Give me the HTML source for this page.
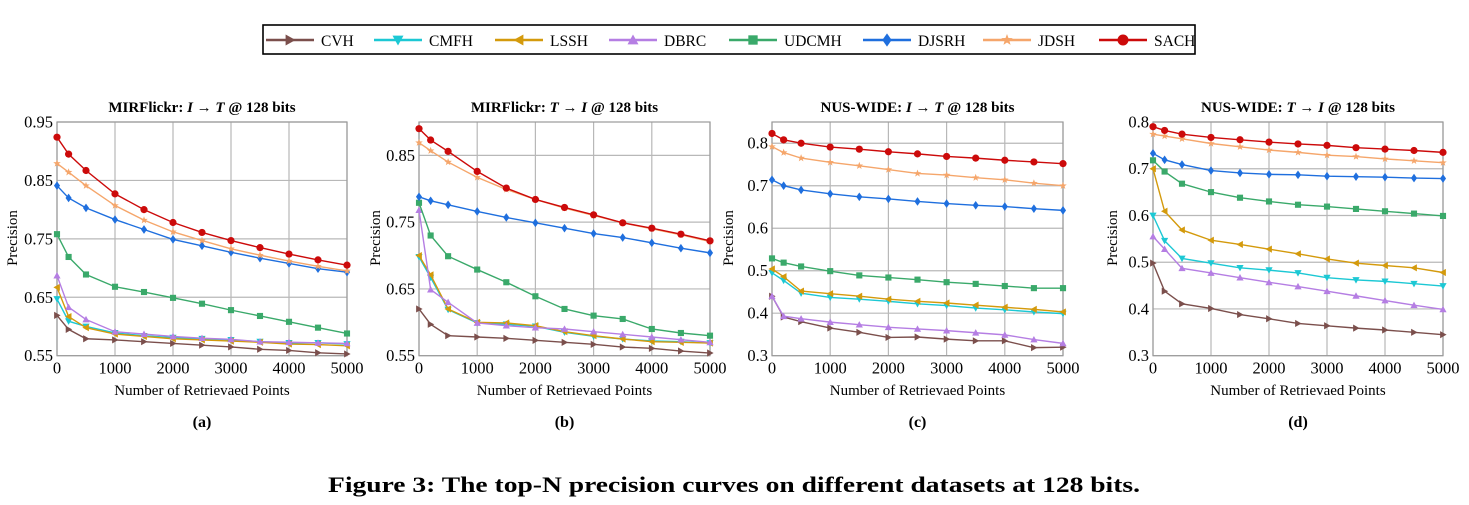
<!DOCTYPE html>
<html><head><meta charset="utf-8"><style>
body{margin:0;background:#fff;}
svg{display:block;font-family:"Liberation Serif",serif;}
</style></head><body>
<svg id="fig" width="1469" height="505" viewBox="0 0 1469 505" xmlns="http://www.w3.org/2000/svg">
<rect x="263" y="25" width="932" height="29" fill="#fff" stroke="#000" stroke-width="1.6"/>
<g id="legend"></g>
<g id="charts"></g>
<text x="734" y="492" text-anchor="middle" font-size="22" font-weight="bold" textLength="812" lengthAdjust="spacingAndGlyphs">Figure 3: The top-N precision curves on different datasets at 128 bits.</text>
</svg>
<script>
const xPoints = [0,200,500,1000,1500,2000,2500,3000,3500,4000,4500,5000];
const xTicks = [0,1000,2000,3000,4000,5000];
const methods = ["CVH","CMFH","LSSH","DBRC","UDCMH","DJSRH","JDSH","SACH"];
const colors = ["#7b4f4c","#1cc8d4","#d49a0c","#b57ee3","#3aa96a","#1f6fde","#f5a66b","#cc0a0a"];
const markers = ["tri-right","tri-down","tri-left","tri-up","square","diamond","star","circle"];

const aCVH=[0.619,0.595,0.579,0.577,0.574,0.571,0.568,0.565,0.561,0.559,0.555,0.553];
const aCMFH=[0.647,0.609,0.600,0.589,0.584,0.581,0.579,0.577,0.574,0.572,0.572,0.570];
const aLSSH=[0.667,0.617,0.598,0.587,0.583,0.579,0.577,0.575,0.573,0.570,0.569,0.567];
const aDBRC=[0.687,0.633,0.612,0.591,0.587,0.583,0.580,0.578,0.574,0.573,0.572,0.571];
const aUDCMH=[0.758,0.719,0.689,0.668,0.659,0.649,0.639,0.628,0.618,0.608,0.598,0.588];
const aDJSRH=[0.841,0.820,0.803,0.783,0.766,0.749,0.738,0.727,0.717,0.708,0.699,0.693];
const aJDSH=[0.879,0.864,0.841,0.807,0.782,0.762,0.747,0.733,0.722,0.712,0.703,0.695];
const aSACH=[0.924,0.895,0.867,0.827,0.800,0.778,0.761,0.747,0.735,0.724,0.714,0.705];

const bCVH=[0.620,0.597,0.580,0.578,0.576,0.573,0.570,0.567,0.563,0.561,0.557,0.554];
const bCMFH=[0.698,0.667,0.619,0.599,0.597,0.594,0.585,0.579,0.575,0.572,0.571,0.569];
const bLSSH=[0.700,0.671,0.620,0.600,0.599,0.595,0.586,0.580,0.575,0.571,0.570,0.569];
const bDBRC=[0.768,0.649,0.630,0.599,0.595,0.592,0.590,0.586,0.582,0.578,0.574,0.570];
const bUDCMH=[0.779,0.730,0.699,0.679,0.660,0.639,0.620,0.610,0.605,0.590,0.584,0.580];
const bDJSRH=[0.788,0.782,0.776,0.766,0.757,0.749,0.741,0.733,0.727,0.719,0.711,0.704];
const bJDSH=[0.869,0.857,0.840,0.817,0.799,0.784,0.771,0.760,0.749,0.740,0.731,0.721];
const bSACH=[0.890,0.873,0.856,0.826,0.801,0.784,0.772,0.761,0.749,0.741,0.732,0.722];

const cCVH=[0.440,0.391,0.380,0.365,0.355,0.343,0.344,0.339,0.335,0.335,0.319,0.320];
const cCMFH=[0.495,0.477,0.447,0.437,0.433,0.428,0.422,0.418,0.412,0.408,0.403,0.399];
const cLSSH=[0.504,0.486,0.452,0.446,0.440,0.433,0.428,0.424,0.419,0.414,0.409,0.403];
const cDBRC=[0.440,0.393,0.387,0.379,0.373,0.367,0.363,0.359,0.354,0.349,0.338,0.329];
const cUDCMH=[0.529,0.519,0.510,0.499,0.489,0.484,0.479,0.473,0.469,0.464,0.459,0.459];
const cDJSRH=[0.714,0.700,0.690,0.681,0.674,0.669,0.663,0.658,0.654,0.651,0.646,0.642];
const cJDSH=[0.792,0.778,0.765,0.755,0.747,0.738,0.729,0.725,0.719,0.714,0.706,0.700];
const cSACH=[0.823,0.808,0.800,0.791,0.786,0.780,0.775,0.769,0.765,0.760,0.756,0.752];

const dCVH=[0.498,0.438,0.411,0.401,0.388,0.379,0.369,0.364,0.359,0.355,0.350,0.345];
const dCMFH=[0.600,0.546,0.508,0.498,0.488,0.483,0.477,0.467,0.462,0.459,0.454,0.449];
const dLSSH=[0.700,0.609,0.569,0.547,0.538,0.528,0.518,0.507,0.498,0.493,0.488,0.478];
const dDBRC=[0.555,0.528,0.487,0.477,0.467,0.457,0.448,0.438,0.428,0.418,0.408,0.399];
const dUDCMH=[0.718,0.694,0.668,0.650,0.638,0.630,0.623,0.619,0.614,0.609,0.604,0.599];
const dDJSRH=[0.733,0.719,0.709,0.696,0.691,0.688,0.687,0.684,0.683,0.682,0.680,0.679];
const dJDSH=[0.774,0.770,0.764,0.754,0.747,0.740,0.735,0.729,0.726,0.721,0.717,0.713];
const dSACH=[0.790,0.782,0.774,0.767,0.762,0.757,0.753,0.750,0.745,0.742,0.739,0.735];

const aYTicks=[0.55,0.65,0.75,0.85,0.95];
const bYTicks=[0.55,0.65,0.75,0.85];
const cYTicks=[0.3,0.4,0.5,0.6,0.7,0.8];
const dYTicks=[0.3,0.4,0.5,0.6,0.7,0.8];
const aYLabels=["0.55","0.65","0.75","0.85","0.95"];
const bYLabels=["0.55","0.65","0.75","0.85"];
const cYLabels=["0.3","0.4","0.5","0.6","0.7","0.8"];
const dYLabels=["0.3","0.4","0.5","0.6","0.7","0.8"];

const NS="http://www.w3.org/2000/svg";
function mk(tag,attrs,parent){const e=document.createElementNS(NS,tag);for(const k in attrs)e.setAttribute(k,attrs[k]);parent.appendChild(e);return e;}

function marker(type,cx,cy,col,parent,s){
  s=s||4;let e;
  if(type==="circle"){e=mk("circle",{cx:cx,cy:cy,r:s,fill:col},parent);}
  else if(type==="square"){e=mk("rect",{x:cx-s*0.85,y:cy-s*0.85,width:s*1.7,height:s*1.7,fill:col},parent);}
  else{
    let pts;
    if(type==="diamond")pts=[[0,-s*1.2],[s*0.85,0],[0,s*1.2],[-s*0.85,0]];
    else if(type==="tri-up")pts=[[0,-s],[s,s*0.8],[-s,s*0.8]];
    else if(type==="tri-down")pts=[[0,s],[s,-s*0.8],[-s,-s*0.8]];
    else if(type==="tri-left")pts=[[-s,0],[s*0.8,-s],[s*0.8,s]];
    else if(type==="tri-right")pts=[[s,0],[-s*0.8,-s],[-s*0.8,s]];
    else if(type==="star"){pts=[];for(let i=0;i<10;i++){const r=i%2?s*0.45:s*1.1;const a=-Math.PI/2+i*Math.PI/5;pts.push([r*Math.cos(a),r*Math.sin(a)]);}}
    e=mk("polygon",{points:pts.map(p=>(cx+p[0])+","+(cy+p[1])).join(" "),fill:col},parent);
  }
  return e;
}

// legend
const legendLineX=[266,374,495,609,729,863,983,1099];
const leg=document.getElementById("legend");
methods.forEach((m,i)=>{
  const g=mk("g",{},leg);
  
  
  const x=legendLineX[i];
  mk("line",{x1:x,y1:40,x2:x+48,y2:40,stroke:colors[i],"stroke-width":2.4},g);
  marker(markers[i],x+24,40,colors[i],g,5.5);
  const t=mk("text",{x:x+55,y:46,"font-size":15.5},g);
  t.textContent=m;
});

const charts=[
 {id:"a",title:["MIRFlickr: ","I"," → ","T"," @ 128 bits"],x0:57,x1:347,ymin:0.55,ymax:0.95,yt:aYTicks,yl:aYLabels,series:[aCVH,aCMFH,aLSSH,aDBRC,aUDCMH,aDJSRH,aJDSH,aSACH],ylx:17},
 {id:"b",title:["MIRFlickr: ","T"," → ","I"," @ 128 bits"],x0:419,x1:710,ymin:0.55,ymax:0.9,yt:bYTicks,yl:bYLabels,series:[bCVH,bCMFH,bLSSH,bDBRC,bUDCMH,bDJSRH,bJDSH,bSACH],ylx:380},
 {id:"c",title:["NUS-WIDE: ","I"," → ","T"," @ 128 bits"],x0:772,x1:1063,ymin:0.3,ymax:0.85,yt:cYTicks,yl:cYLabels,series:[cCVH,cCMFH,cLSSH,cDBRC,cUDCMH,cDJSRH,cJDSH,cSACH],ylx:733},
 {id:"d",title:["NUS-WIDE: ","T"," → ","I"," @ 128 bits"],x0:1153,x1:1443,ymin:0.3,ymax:0.8,yt:dYTicks,yl:dYLabels,series:[dCVH,dCMFH,dLSSH,dDBRC,dUDCMH,dDJSRH,dJDSH,dSACH],ylx:1117}
];
const yTop=122,yBot=355.7;
const root=document.getElementById("charts");
charts.forEach(c=>{
  const g=mk("g",{},root);
  
  
  const X=v=>c.x0+(v-0)/5000*(c.x1-c.x0);
  const Y=v=>yBot-(v-c.ymin)/(c.ymax-c.ymin)*(yBot-yTop);
  const cx=(c.x0+c.x1)/2;
  xTicks.forEach(t=>{const l=mk("line",{x1:X(t),y1:yTop,x2:X(t),y2:yBot,stroke:"#b8b8b8","stroke-width":1.2},g);
    
    const tx=mk("text",{x:X(t),y:yBot+18,"text-anchor":"middle","font-size":16.5},g);tx.textContent=String(t);
    });
  c.yt.forEach((t,i)=>{const l=mk("line",{x1:c.x0,y1:Y(t),x2:c.x1,y2:Y(t),stroke:"#b8b8b8","stroke-width":1.2},g);
    
    const tx=mk("text",{x:c.x0-4,y:Y(t)+5.5,"text-anchor":"end","font-size":16.5},g);tx.textContent=c.yl[i];
    });
  const fr=mk("rect",{x:c.x0,y:yTop,width:c.x1-c.x0,height:yBot-yTop,fill:"none",stroke:"#999","stroke-width":1.2},g);
  
  c.series.forEach((s,i)=>{
    const sg=mk("g",{},g);
    
    
    mk("polyline",{points:s.map((v,j)=>X(xPoints[j])+","+Y(v)).join(" "),fill:"none",stroke:colors[i],"stroke-width":1.4},sg);
    s.forEach((v,j)=>{const m=marker(markers[i],X(xPoints[j]),Y(v),colors[i],sg,3.6);
      });
  });
  const tt=mk("text",{x:cx,y:112,"text-anchor":"middle","font-size":15,"font-weight":"bold"},g);
  
  c.title.forEach((p,k)=>{const ts=mk("tspan",{},tt);if(k===1||k===3)ts.setAttribute("font-style","italic");ts.textContent=p;});
  const xl=mk("text",{x:cx,y:395,"text-anchor":"middle","font-size":15},g);xl.textContent="Number of Retrievaed Points";
  
  const yl=mk("text",{x:c.ylx,y:238,"text-anchor":"middle","font-size":15,transform:"rotate(-90 "+c.ylx+" 238)"},g);yl.textContent="Precision";
  
  const sl=mk("text",{x:cx,y:427,"text-anchor":"middle","font-size":16,"font-weight":"bold"},g);sl.textContent="("+c.id+")";
  
});
</script>
</body></html>
